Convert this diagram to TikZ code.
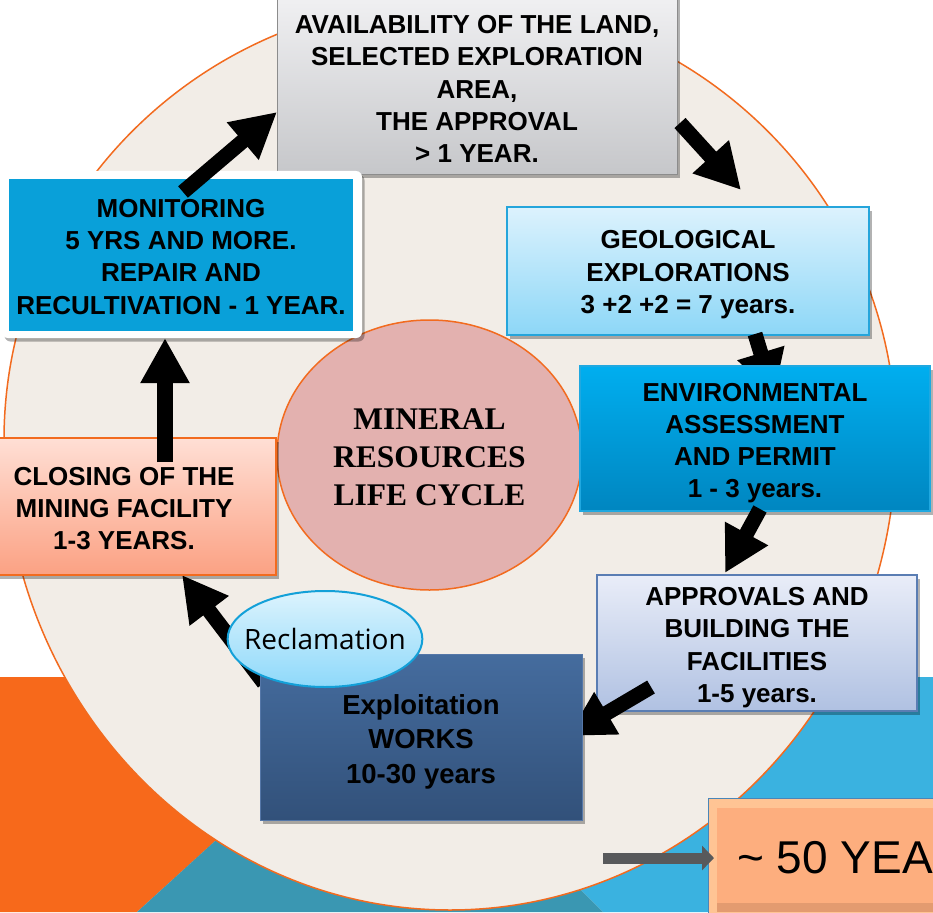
\documentclass[tikz,border=0pt]{standalone}
\usepackage{fontspec}
\setmainfont{Liberation Sans}
\newfontfamily\serifbold{Liberation Serif}
\newfontfamily\opensans{Open Sans}
\usetikzlibrary{arrows.meta,shadows,shapes.geometric}
\newcommand{\mystrut}[1]{\rule{0pt}{#1}}

\definecolor{bgorange}{HTML}{F7691B}
\definecolor{bgteal}{HTML}{3A97B2}
\definecolor{bgblue}{HTML}{3AB2E0}
\definecolor{beige}{HTML}{F2EDE7}
\definecolor{ringorange}{HTML}{F26B1F}
\definecolor{corepink}{HTML}{E3B1AF}
\definecolor{graytop}{HTML}{F0F0F2}
\definecolor{graybot}{HTML}{C6C7CA}
\definecolor{grayedge}{HTML}{8C8C8C}
\definecolor{monblue}{HTML}{09A0D9}
\definecolor{geotop}{HTML}{DCF2FD}
\definecolor{geobot}{HTML}{8DD7F7}
\definecolor{geoedge}{HTML}{25A5DB}
\definecolor{envtop}{HTML}{00AEEF}
\definecolor{envbot}{HTML}{0086C0}
\definecolor{envedge}{HTML}{20A8E0}
\definecolor{apptop}{HTML}{E9EDF8}
\definecolor{appbot}{HTML}{B0C1E2}
\definecolor{appedge}{HTML}{5A7DB3}
\definecolor{exptop}{HTML}{456C9E}
\definecolor{expbot}{HTML}{32517A}
\definecolor{expedge}{HTML}{5577A8}
\definecolor{clotop}{HTML}{FFDFD5}
\definecolor{clobot}{HTML}{FBA183}
\definecolor{recltop}{HTML}{DCF3FD}
\definecolor{reclbot}{HTML}{8ED9FA}
\definecolor{recledge}{HTML}{13A0D8}
\definecolor{fiftyface}{HTML}{FDAE7E}
\definecolor{fiftylight}{HTML}{FFC494}
\definecolor{fiftydark}{HTML}{E39B70}
\definecolor{fiftyedge}{HTML}{4A86B8}
\definecolor{grayarrow}{HTML}{58595B}

\begin{document}
\begin{tikzpicture}[x=1pt,y=-1pt,
  boxtxt/.style={rectangle, inner sep=0pt, align=center,
    font=\bfseries\fontsize{26}{32.3}\selectfont},
  shad/.style={drop shadow={shadow xshift=2.5pt,shadow yshift=-3.5pt,opacity=0.3,fill=black}},
  blockarrow/.style={line width=15pt, black, -{Triangle[width=46pt,length=45pt]}},
]
\useasboundingbox (0,0) rectangle (933,912);
\clip (0,0) rectangle (933,912);

% background
\fill[white] (0,0) rectangle (933,912);
\fill[bgblue] (368,677) -- (933,677) -- (933,912) -- (603,912) -- cycle;
\fill[bgorange] (0,677) -- (396,677) -- (137,912) -- (0,912) -- cycle;
\fill[bgteal] (137,912) -- (381,690) -- (603,912) -- cycle;

% big cycle shape
\filldraw[fill=beige, draw=ringorange, line width=1.5pt]
  (4,440) arc[start angle=180, end angle=360, x radius=446, y radius=440]
  arc[start angle=0, end angle=180, x radius=446, y radius=470] -- cycle;

% centre
\node[ellipse, minimum width=305pt, minimum height=270pt, inner sep=0pt,
  fill=corepink, draw=ringorange, line width=1.5pt, align=center,
  font=\serifbold\bfseries\fontsize{31.5}{38}\selectfont] (core) at (429.5,455)
  {\mystrut{25pt}MINERAL\\RESOURCES\\LIFE CYCLE};

% top box
\node[boxtxt, minimum width=400pt, minimum height=177pt, top color=graytop,
  bottom color=graybot, draw=grayedge, line width=1pt, shad] (land) at (477,85.5)
  {\mystrut{25.6pt}AVAILABILITY OF THE LAND,\\SELECTED EXPLORATION\\AREA,\\THE APPROVAL\\> 1 YEAR.};

% monitoring
\node[fill=white, rounded corners=6pt, minimum width=360pt, minimum height=167pt,
  inner sep=0pt, shad] (monframe) at (182,254.5) {};
\node[boxtxt, fill=monblue, minimum width=344pt, minimum height=152pt] (mon) at (181,255)
  {\mystrut{21.6pt}MONITORING\\5 YRS AND MORE.\\REPAIR AND\\RECULTIVATION - 1 YEAR.};

\coordinate (a1s) at (183,192);
\coordinate (a1e) at (277,112);
\draw[blockarrow] (a1s) -- (a1e);
\coordinate (a2s) at (680,123);
\coordinate (a2e) at (741,190);
\draw[blockarrow] (a2s) -- (a2e);

% geological
\node[boxtxt, minimum width=362pt, minimum height=128pt, top color=geotop,
  bottom color=geobot, draw=geoedge, line width=1.5pt, shad] (geo) at (688,271)
  {\mystrut{25.6pt}GEOLOGICAL\\EXPLORATIONS\\3 +2 +2 = 7 years.};

\coordinate (a3s) at (755,334);
\coordinate (a3e) at (774,396);
\draw[blockarrow] (a3s) -- (a3e);

% environmental
\node[boxtxt, minimum width=350pt, minimum height=145pt, top color=envtop,
  bottom color=envbot, draw=envedge, line width=1.5pt, shad] (env) at (755,438.5)
  {\mystrut{27.4pt}ENVIRONMENTAL\\ASSESSMENT\\AND PERMIT\\1 - 3 years.};

\coordinate (a4s) at (760,509);
\coordinate (a4e) at (725,573);
\draw[blockarrow] (a4s) -- (a4e);

% approvals
\node[boxtxt, minimum width=320pt, minimum height=136pt, top color=apptop,
  bottom color=appbot, draw=appedge, line width=1.2pt, shad] (app) at (757,643)
  {\mystrut{27.4pt}APPROVALS AND\\BUILDING THE\\FACILITIES\\1-5 years.};

\coordinate (a5s) at (651,687);
\coordinate (a5e) at (568,736);
\draw[blockarrow] (a5s) -- (a5e);

\coordinate (a6s) at (264,683);
\coordinate (a6e) at (182,575);
\draw[blockarrow] (a6s) -- (a6e);

% exploitation
\node[rectangle, inner sep=0pt, align=center, font=\bfseries\fontsize{27.5}{34.5}\selectfont,
  minimum width=322pt, minimum height=166pt, top color=exptop,
  bottom color=expbot, draw=expedge, line width=1pt, shad] (exp) at (421,737)
  {\mystrut{29pt}Exploitation\\WORKS\\10-30 years};

% closing
\node[boxtxt, minimum width=304pt, minimum height=137pt, top color=clotop,
  bottom color=clobot, draw=ringorange, line width=2pt, shad] (close) at (124,506.5)
  {\mystrut{22.6pt}CLOSING OF THE\\MINING FACILITY\\1-3 YEARS.};

\coordinate (a7s) at (165,462);
\coordinate (a7e) at (165,338);
\draw[blockarrow, line width=16pt] (a7s) -- (a7e);

% reclamation
\node[ellipse, minimum width=194pt, minimum height=96pt, inner xsep=-12pt, inner ysep=0pt,
  top color=recltop, bottom color=reclbot, draw=recledge, line width=2pt,
  font=\opensans\fontsize{28}{32}\selectfont] (recl) at (325,639) {Reclamation};

% ~50 years box
\node[anchor=north west, inner sep=0pt, minimum width=240pt, minimum height=130pt,
  fill=fiftylight, draw=fiftyedge, line width=1pt] (fifty) at (708,798) {};
\fill[fiftydark] (717,903) rectangle (945,912);
\fill[fiftyface] (717,808) rectangle (945,903);
\node[anchor=base west, inner sep=0pt, font=\fontsize{46}{50}\selectfont] (fiftytxt)
  at (737,873) {\textasciitilde{} 50 YEA};

\coordinate (g1s) at (603,858);
\coordinate (g1e) at (714,858);
\draw[grayarrow, line width=11pt, -{Triangle[width=24pt,length=12pt]}] (g1s) -- (g1e);

\end{tikzpicture}
\end{document}
